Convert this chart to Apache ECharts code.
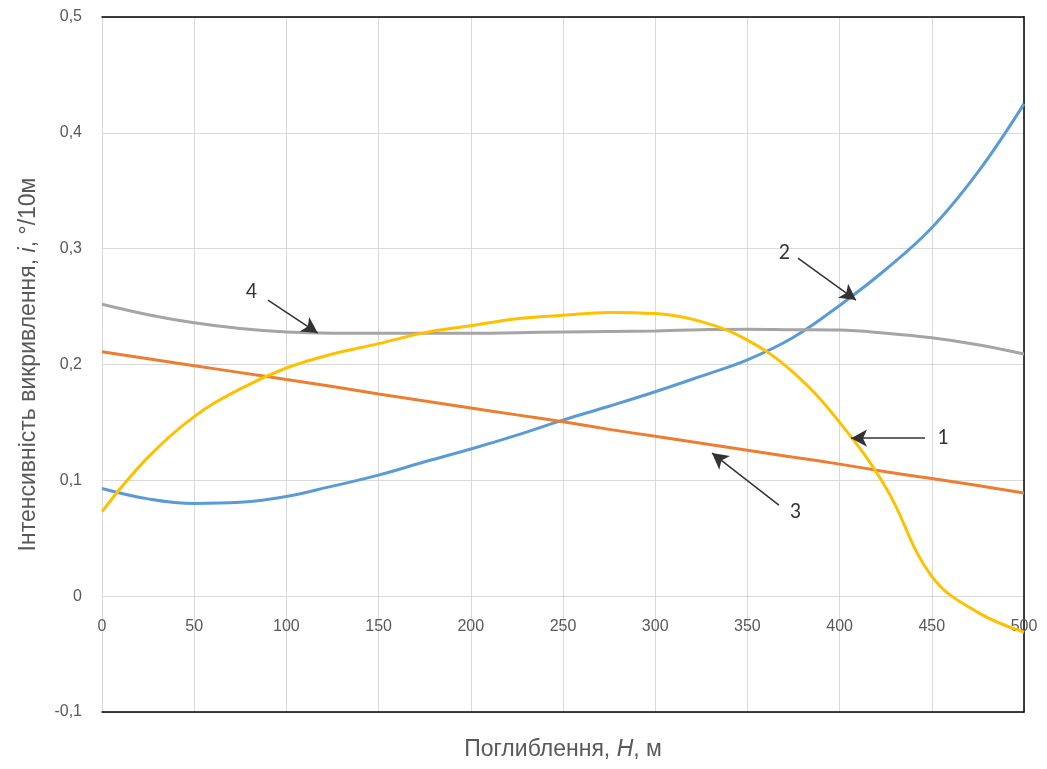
<!DOCTYPE html>
<html><head><meta charset="utf-8">
<script src="https://cdn.jsdelivr.net/npm/echarts@6/dist/echarts.min.js"></script>
<style>html,body{margin:0;padding:0;background:#fff}#c{width:1047px;height:769px}</style>
</head><body><div id="c"></div>
<script>
const depthH = [0,25,50,75,100,125,150,175,200,225,250,275,300,325,350,375,400,425,450,475,500];
const curve1 = [0.073,0.120,0.155,0.179,0.197,0.209,0.218,0.2275,0.2335,0.2395,0.2425,0.245,0.244,0.237,0.221,0.193,0.150,0.094,0.017,-0.014,-0.031];
const curve2 = [0.093,0.084,0.080,0.081,0.086,0.095,0.1045,0.116,0.127,0.139,0.152,0.164,0.1765,0.190,0.204,0.2235,0.251,0.282,0.318,0.366,0.425];
const curve3 = [0.211,0.205,0.199,0.193,0.187,0.181,0.1745,0.1685,0.1625,0.1565,0.1505,0.144,0.138,0.132,0.126,0.120,0.114,0.1075,0.1015,0.0955,0.089];
const curve4 = [0.252,0.243,0.236,0.231,0.228,0.227,0.227,0.227,0.227,0.2275,0.228,0.2285,0.229,0.230,0.2305,0.230,0.2297,0.227,0.223,0.217,0.209];
const annoText = ['4','2','1','3'];
const annoAt = [[81,0.2625],[370,0.2962],[456,0.1364],[376,0.0725]];
const annoFrom = [[90,0.2556],[377.4,0.2919],[446.3,0.1364],[367.1,0.0786]];
const annoTo = [[117,0.2271],[408.9,0.2556],[406.2,0.1364],[330.8,0.1235]];

const zip = (xs, ys) => xs.map((x,i)=>[x, ys[i]]);
const fmt = v => v === 0 ? '0' : v.toFixed(1).replace('.', ',');
const lineSeries = (name, ys, color) => ({
  name, type:'line', smooth:0.4, showSymbol:false, data: zip(depthH, ys),
  lineStyle:{color, width:3}, itemStyle:{color}, z:3
});
const nameRich = {a:{fontSize:23, color:'#595959', fontFamily:'Liberation Sans, sans-serif'}, b:{fontSize:23, color:'#595959', fontStyle:'italic', fontFamily:'Liberation Sans, sans-serif'}};
const chart = echarts.init(document.getElementById('c'));
chart.setOption({
  animation:false,
  grid:{left:102, right:23, top:17, bottom:57, containLabel:false, outerBoundsMode:'none'},
  xAxis:[
    {type:'value', min:0, max:500, interval:50, position:'bottom',
     axisLine:{onZero:false, lineStyle:{color:'#000', width:1.5}},
     axisTick:{show:false},
     axisLabel:{color:'#595959', fontSize:16, fontFamily:'Liberation Sans Narrow, Liberation Sans, sans-serif', margin:-93},
     splitLine:{show:true, lineStyle:{color:'#d9d9d9'}},
     name:'{a|Поглиблення, }{b|H}{a|, м}', nameLocation:'middle', nameGap:26,
     nameTextStyle:{rich:nameRich}
    },
    {type:'value', min:0, max:500, position:'top', axisLine:{onZero:false, lineStyle:{color:'#000', width:1.5}}, axisTick:{show:false}, axisLabel:{show:false}, splitLine:{show:false}}
  ],
  yAxis:[
    {type:'value', min:-0.1, max:0.5, interval:0.1,
     axisLine:{show:true, onZero:false, lineStyle:{color:'#d9d9d9'}},
     axisTick:{show:false},
     axisLabel:{color:'#595959', fontSize:16, fontFamily:'Liberation Sans, sans-serif', margin:20, formatter:fmt},
     splitLine:{show:true, lineStyle:{color:'#d9d9d9'}},
     name:'{a|Інтенсивність викривлення, }{b|i}{a|, °/10м}', nameLocation:'middle', nameGap:62,
     nameTextStyle:{rich:nameRich}
    },
    {type:'value', min:-0.1, max:0.5, position:'right', axisLine:{show:true, onZero:false, lineStyle:{color:'#000', width:1.5}}, axisTick:{show:false}, axisLabel:{show:false}, splitLine:{show:false}}
  ],
  series:[
    lineSeries('2', curve2, '#5B9BD5'),
    lineSeries('3', curve3, '#ED7D31'),
    lineSeries('4', curve4, '#A5A5A5'),
    lineSeries('1', curve1, '#FFC000'),
    {type:'scatter', symbolSize:0, z:5, silent:true,
     data: annoAt.map((p,i)=>({value:p, label:{show:true, formatter:annoText[i]}})),
     label:{show:true, position:'inside', color:'#000', fontSize:22, fontFamily:'Carlito, Liberation Sans, sans-serif'},
     markLine:{silent:true, symbol:['none','arrow'], symbolSize:[13,16], animation:false,
       lineStyle:{color:'#333', width:1.5, type:'solid'}, label:{show:false},
       data: annoFrom.map((p,i)=>[{coord:p},{coord:annoTo[i]}])}
    }
  ]
});
</script></body></html>
